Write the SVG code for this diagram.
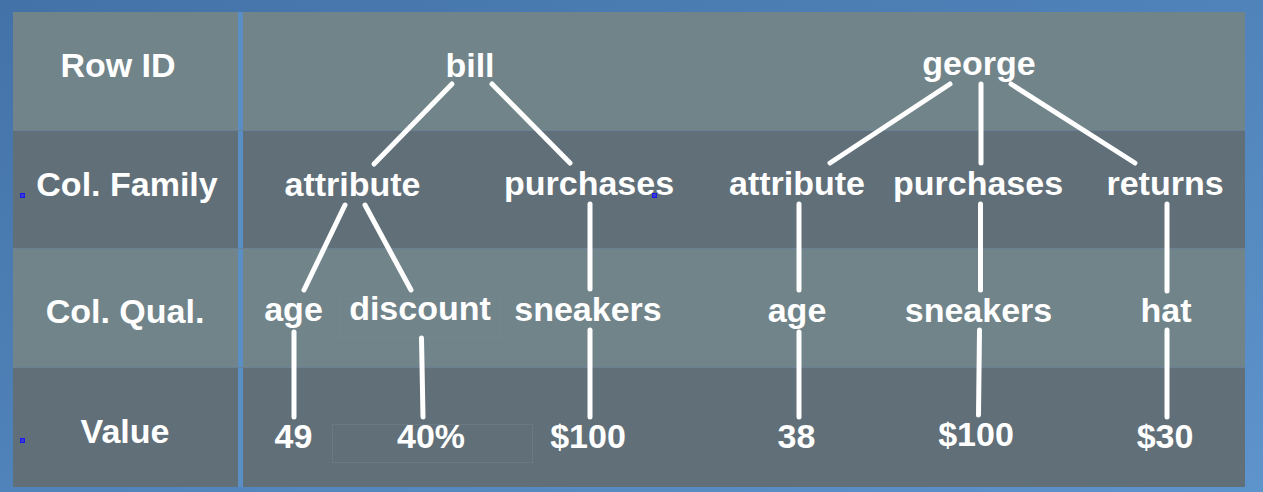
<svg xmlns="http://www.w3.org/2000/svg" width="1263" height="492" viewBox="0 0 1263 492">
<style>
.t{font-family:"Liberation Sans",Arial,sans-serif;font-weight:bold;font-size:34px;fill:#ffffff;text-anchor:middle}
.lt{fill:#71848a}
.dk{fill:#616f79}
.sep{stroke:#6a8095;stroke-width:1}
.c line{stroke:#ffffff;stroke-width:5;stroke-linecap:round}
.faint{fill:none;stroke:#7a8c95;stroke-width:1;opacity:0.35}
.dot{fill:#3a3ad0;stroke:#1a1af0;stroke-width:1}
</style>
<defs>
<linearGradient id="bg" x1="0" y1="0" x2="1" y2="1">
<stop offset="0" stop-color="#4372a8"/>
<stop offset="1" stop-color="#5d94cb"/>
</linearGradient>
</defs>
<rect x="0" y="0" width="1263" height="492" fill="url(#bg)"/>
<rect x="238" y="12" width="5" height="475" fill="#5a8fc6"/>
<g id="panel-left">
<rect class="lt" x="13" y="12" width="225" height="118"/>
<rect class="dk" x="13" y="130" width="225" height="119"/>
<rect class="lt" x="13" y="249" width="225" height="119"/>
<rect class="dk" x="13" y="368" width="225" height="119"/>
</g>
<g id="panel-main">
<rect class="lt" x="243" y="12" width="1002" height="118"/>
<rect class="dk" x="243" y="130" width="1002" height="119"/>
<rect class="lt" x="243" y="249" width="1002" height="119"/>
<rect class="dk" x="243" y="368" width="1002" height="119"/>
</g>
<line class="sep" x1="13" y1="130.5" x2="1245" y2="130.5"/>
<line class="sep" x1="13" y1="248.5" x2="1245" y2="248.5"/>
<line class="sep" x1="13" y1="367.5" x2="1245" y2="367.5"/>
<rect class="faint" x="339.5" y="298.5" width="161" height="39"/>
<rect class="faint" x="332.5" y="424.5" width="200" height="38"/>
<g id="labels">
<text class="t" x="118" y="77">Row ID</text>
<text class="t" x="127" y="196">Col. Family</text>
<text class="t" x="125" y="323">Col. Qual.</text>
<text class="t" x="125" y="443">Value</text>
</g>
<g class="c" id="connectors">
<line x1="452" y1="84" x2="374" y2="164"/>
<line x1="492" y1="84" x2="570" y2="163"/>
<line x1="950" y1="84" x2="830" y2="163"/>
<line x1="981" y1="84" x2="981" y2="163"/>
<line x1="1011" y1="84" x2="1135" y2="163"/>
<line x1="345" y1="205" x2="304" y2="290"/>
<line x1="365" y1="205" x2="411" y2="290"/>
<line x1="590" y1="204" x2="590" y2="289"/>
<line x1="799" y1="204" x2="799" y2="290"/>
<line x1="980.5" y1="204" x2="980.5" y2="290"/>
<line x1="1167" y1="204" x2="1167" y2="291"/>
<line x1="294" y1="332" x2="294" y2="417"/>
<line x1="421.5" y1="338" x2="423" y2="417"/>
<line x1="590" y1="330" x2="590" y2="417"/>
<line x1="799" y1="332" x2="799" y2="417"/>
<line x1="979.5" y1="330" x2="978.5" y2="415"/>
<line x1="1167" y1="330" x2="1167" y2="417"/>
</g>
<g id="n-bill"><text class="t" x="470" y="77">bill</text></g>
<g id="n-george"><text class="t" x="979" y="75">george</text></g>
<g id="n-bill-attribute"><text class="t" x="352.5" y="196">attribute</text></g>
<g id="n-bill-purchases"><text class="t" x="589" y="195">purchases</text></g>
<g id="n-george-attribute"><text class="t" x="797" y="195">attribute</text></g>
<g id="n-george-purchases"><text class="t" x="978" y="195">purchases</text></g>
<g id="n-george-returns"><text class="t" x="1165" y="195">returns</text></g>
<g id="n-bill-age"><text class="t" x="293.5" y="321">age</text></g>
<g id="n-bill-discount"><text class="t" x="420" y="320">discount</text></g>
<g id="n-bill-sneakers"><text class="t" x="588" y="321">sneakers</text></g>
<g id="n-george-age"><text class="t" x="797" y="322">age</text></g>
<g id="n-george-sneakers"><text class="t" x="978.5" y="322">sneakers</text></g>
<g id="n-george-hat"><text class="t" x="1166" y="322">hat</text></g>
<g id="n-bill-49"><text class="t" x="293.5" y="448">49</text></g>
<g id="n-bill-40"><text class="t" x="431" y="448">40%</text></g>
<g id="n-bill-100"><text class="t" x="588" y="448">$100</text></g>
<g id="n-george-38"><text class="t" x="796.5" y="448">38</text></g>
<g id="n-george-100"><text class="t" x="976" y="446">$100</text></g>
<g id="n-george-30"><text class="t" x="1165" y="448">$30</text></g>
<rect class="dot" x="20.5" y="193.5" width="4" height="4"/>
<rect class="dot" x="20.5" y="438.5" width="4" height="4"/>
<rect class="dot" x="652.5" y="193.5" width="4" height="4"/>
</svg>
